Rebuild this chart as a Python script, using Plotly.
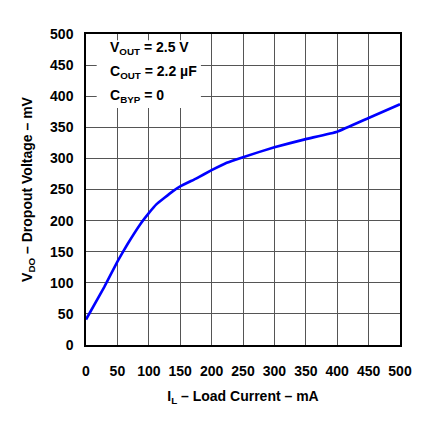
import plotly.graph_objects as go

# load current (mA) vs dropout voltage (mV)
load_ma = [0, 29, 50, 66, 87, 100, 112, 138, 150, 176, 200, 224, 250, 300, 350, 400, 450, 500]
dropout_mv = [41, 93, 134, 162, 195, 212, 226, 247, 255, 268, 281, 293, 302, 318, 331, 343, 365, 387]

tick_vals = [0, 50, 100, 150, 200, 250, 300, 350, 400, 450, 500]
note_lines = ["V<sub>OUT</sub> = 2.5 V", "C<sub>OUT</sub> = 2.2 \u00b5F", "C<sub>BYP</sub> = 0"]
note_y = [477, 439, 400]

font = dict(family="Liberation Sans, Arial, sans-serif", size=14, color="black", weight="bold")

fig = go.Figure()
fig.add_trace(go.Scatter(x=load_ma, y=dropout_mv, mode="lines",
                         line=dict(color="#0000ff", width=2.6, shape="spline", smoothing=0.3),
                         showlegend=False))

axis = dict(range=[0, 500], tickvals=tick_vals, showgrid=True, gridcolor="#555555",
            gridwidth=1, zeroline=False, showline=True, linecolor="black",
            linewidth=1.5, mirror=True, ticks="", tickfont=font, fixedrange=True,
            automargin=False)

fig.update_xaxes(**axis, ticklabelstandoff=12,
                 title=dict(text="I<sub>L</sub> \u2013 Load Current \u2013 mA",
                            font=font, standoff=14))
fig.update_yaxes(**axis, ticklabelstandoff=8,
                 title=dict(text="V<sub>DO</sub> \u2013 Dropout Voltage \u2013 mV",
                            font=font, standoff=14))

# white box behind the conditions
fig.add_shape(type="rect", x0=17, x1=183, y0=381, y1=490, fillcolor="white",
              line=dict(width=0), layer="above")
for txt, yv in zip(note_lines, note_y):
    fig.add_annotation(x=35, y=yv, text=txt, showarrow=False,
                       xanchor="left", yanchor="middle", font=font)

fig.update_layout(width=420, height=416, margin=dict(l=78, r=28, t=26, b=79),
                  plot_bgcolor="white", paper_bgcolor="white", font=font)

fig.write_html("out.html")
